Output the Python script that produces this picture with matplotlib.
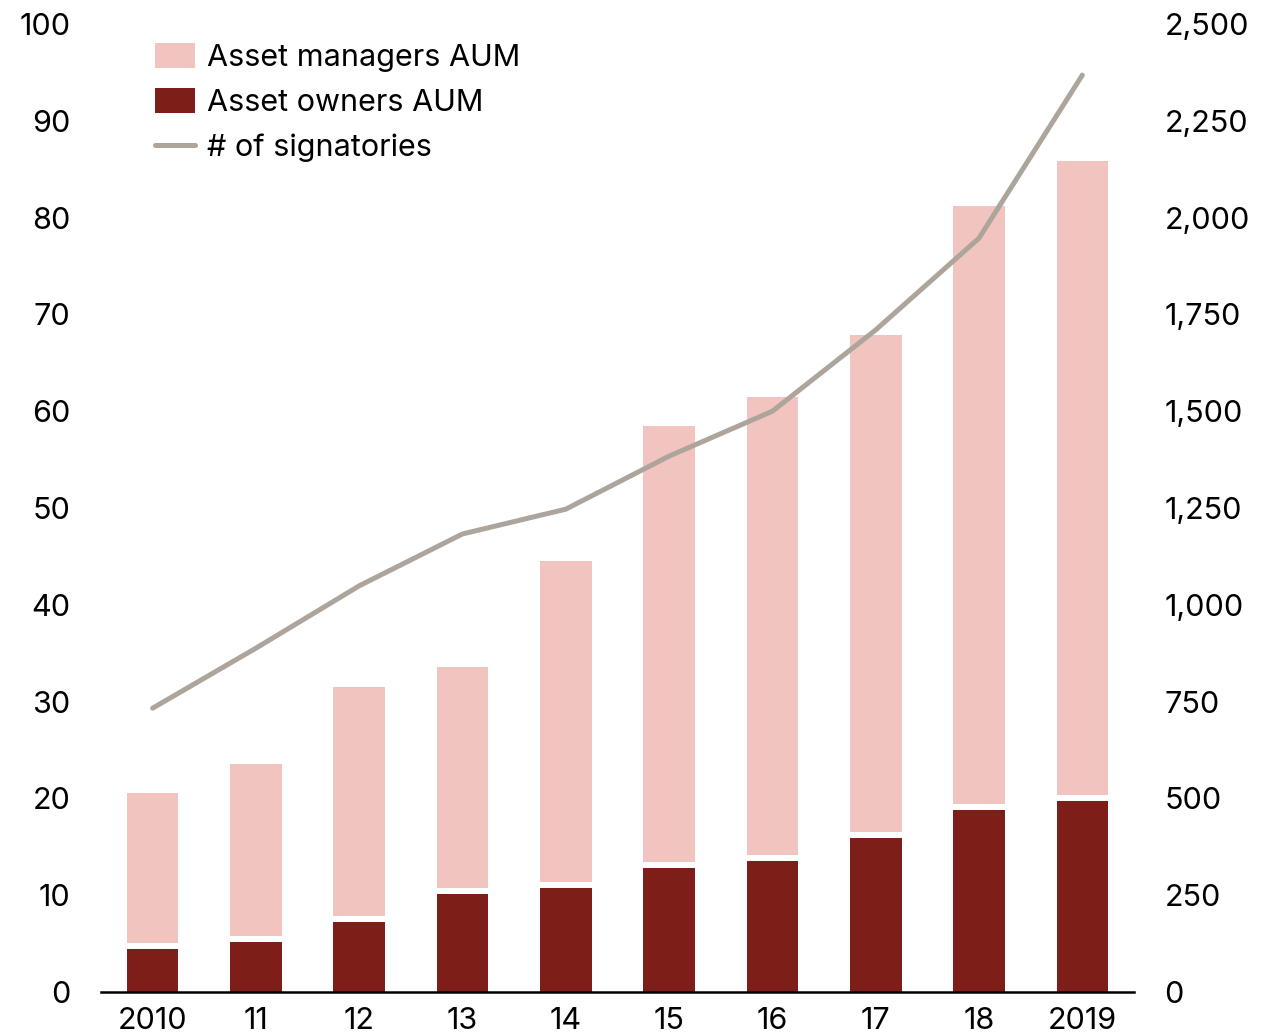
import matplotlib
matplotlib.use("Agg")
import matplotlib.pyplot as plt
import numpy as np
from matplotlib.patches import Patch
from matplotlib.lines import Line2D

years = ["2010", "11", "12", "13", "14", "15", "16", "17", "18", "2019"]
total_aum = [20.6, 23.6, 31.5, 33.6, 44.5, 58.5, 61.5, 67.9, 81.2, 85.8]
owners_aum = [4.75, 5.5, 7.5, 10.4, 11.1, 13.1, 13.8, 16.2, 19.1, 20.0]
signatories = [733, 888, 1049, 1183, 1247, 1384, 1500, 1710, 1947, 2368]

c_mgr = "#F2C4BF"
c_own = "#7D1F18"
c_line = "#ADA59C"

plt.rcParams['font.family'] = ['Inter', 'DejaVu Sans']

fig = plt.figure(figsize=(12.73, 10.34), dpi=100)
ax = fig.add_axes([0.0793, 0.0406, 0.8115, 0.9362])
x = np.arange(len(years))
mgr = [t - o for t, o in zip(total_aum, owners_aum)]
ax.bar(x, owners_aum, width=0.5, color=c_own, zorder=2)
ax.bar(x, mgr, width=0.5, bottom=owners_aum, color=c_mgr, zorder=2)
ax.hlines(owners_aum, x - 0.26, x + 0.26, colors="white", linewidth=4.3, zorder=3)

ax.set_xlim(-0.5, 9.5)
ax.set_ylim(0, 100)
ax.set_yticks(range(0, 101, 10))
ax.set_xticks(x)
ax.set_xticklabels(years)
for s in ["top", "left", "right"]:
    ax.spines[s].set_visible(False)
ax.spines["bottom"].set_linewidth(1.8)
ax.spines["bottom"].set_zorder(5)
ax.tick_params(axis="both", length=0, labelsize=22, colors="black")
ax.tick_params(axis="y", pad=22)
ax.tick_params(axis="x", pad=11)

ax2 = ax.twinx()
ax2.plot(x, signatories, color=c_line, linewidth=3.6, solid_capstyle="round", zorder=4)
ax2.set_ylim(0, 2500)
ax2.set_yticks(range(0, 2501, 250))
ax2.set_yticklabels([f"{v:,}" for v in range(0, 2501, 250)])
for s in ["top", "left", "right", "bottom"]:
    ax2.spines[s].set_visible(False)
ax2.tick_params(axis="y", length=0, labelsize=22, pad=22, colors="black")

handles = [Patch(facecolor=c_mgr, label="Asset managers AUM"),
           Patch(facecolor=c_own, label="Asset owners AUM"),
           Line2D([0], [0], color=c_line, linewidth=3.6, solid_capstyle="round", label="# of signatories")]
ax2.legend(handles=handles, loc="upper left", bbox_to_anchor=(0.026, 1.009), frameon=False,
           fontsize=22, handlelength=1.3, handleheight=0.9, handletextpad=0.4, labelspacing=0.52)

fig.savefig("out.png", dpi=100)
